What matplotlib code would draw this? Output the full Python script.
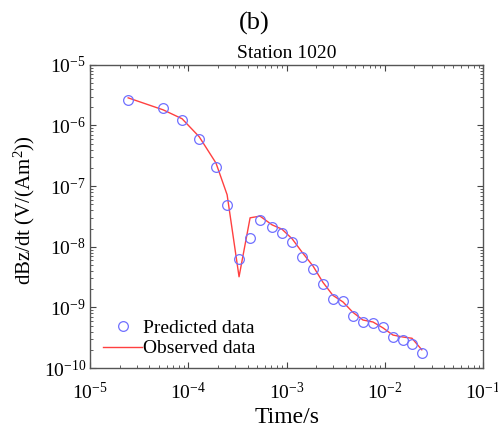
import numpy as np
import matplotlib
matplotlib.use("Agg")
import matplotlib.pyplot as plt
from matplotlib.ticker import LogLocator, NullFormatter

plt.rcParams["font.family"] = "Liberation Serif"
plt.rcParams["mathtext.fontset"] = "custom"
plt.rcParams["mathtext.rm"] = "Liberation Serif"
plt.rcParams["mathtext.it"] = "Liberation Serif:italic"

# ===== data =====
time_s = [2.44e-5, 5.53e-5, 8.63e-5, 1.29e-4, 1.91e-4, 2.48e-4, 3.28e-4,
          4.25e-4, 5.36e-4, 7.10e-4, 8.97e-4, 1.14e-3, 1.44e-3, 1.86e-3,
          2.34e-3, 2.96e-3, 3.75e-3, 4.73e-3, 5.98e-3, 7.57e-3, 9.57e-3,
          1.21e-2, 1.53e-2, 1.89e-2, 2.38e-2]
predicted = [2.64e-6, 1.95e-6, 1.24e-6, 6.0e-7, 2.07e-7, 4.9e-8, 6.3e-9,
             1.4e-8, 2.77e-8, 2.12e-8, 1.69e-8, 1.2e-8, 6.8e-9, 4.3e-9,
             2.43e-9, 1.38e-9, 1.28e-9, 7.2e-10, 5.7e-10, 5.5e-10, 4.75e-10,
             3.25e-10, 2.9e-10, 2.5e-10, 1.77e-10]
observed = [2.85e-6, 1.81e-6, 1.29e-6, 6.5e-7, 2.4e-7, 7.2e-8, 3.2e-9,
            3.0e-8, 3.2e-8, 2.3e-8, 1.95e-8, 1.35e-8, 8.1e-9, 4.8e-9,
            2.6e-9, 1.58e-9, 1.23e-9, 8.3e-10, 6.2e-10, 5.75e-10, 4.6e-10,
            3.5e-10, 3.25e-10, 3.1e-10, 2.0e-10]

fig = plt.figure(figsize=(4.98, 4.32), dpi=100)
ax = fig.add_axes([0.181, 0.148, 0.789, 0.702])

ax.plot(time_s, observed, "-", color="#ff4040", lw=1.0, label="Observed data")
ax.plot(time_s, predicted, "o", ms=7, mfc="none", mec="#7070ff", mew=0.9,
        label="Predicted data")

ax.set_xscale("log")
ax.set_yscale("log")
ax.set_xlim(1e-5, 1e-1)
ax.set_ylim(1e-10, 1e-5)

for axis in (ax.xaxis, ax.yaxis):
    axis.set_major_locator(LogLocator(base=10, numticks=10))
    axis.set_minor_locator(LogLocator(base=10, subs=np.arange(2, 10), numticks=20))
    axis.set_minor_formatter(NullFormatter())

ax.tick_params(which="both", direction="in", top=True, right=True, color="#444444")
ax.tick_params(which="major", length=4, labelsize=14)
ax.tick_params(which="minor", length=2)
ax.tick_params(axis="x", which="major", pad=10)
ax.tick_params(axis="y", which="major", pad=3)
for sp in ax.spines.values():
    sp.set_color("#555555")
    sp.set_linewidth(1.0)

ax.set_xlabel("Time/s", fontsize=17)
ax.xaxis.set_label_coords(0.5, -0.13)
ax.set_ylabel(r"dBz/dt (V/(Am$^2$))", fontsize=15)
ax.yaxis.set_label_coords(-0.135, 0.52)
ax.set_title("Station 1020", fontsize=14, pad=5)
fig.text(0.51, 0.945, "(b)", ha="center", va="center", fontsize=19)

h, l = ax.get_legend_handles_labels()
ax.legend(h[::-1], l[::-1], loc="lower left", frameon=False, fontsize=14,
          handlelength=2.0, handletextpad=0.05, labelspacing=0.15,
          borderpad=0, borderaxespad=0, bbox_to_anchor=(0.033, 0.035))

fig.savefig("out.png", dpi=100)
